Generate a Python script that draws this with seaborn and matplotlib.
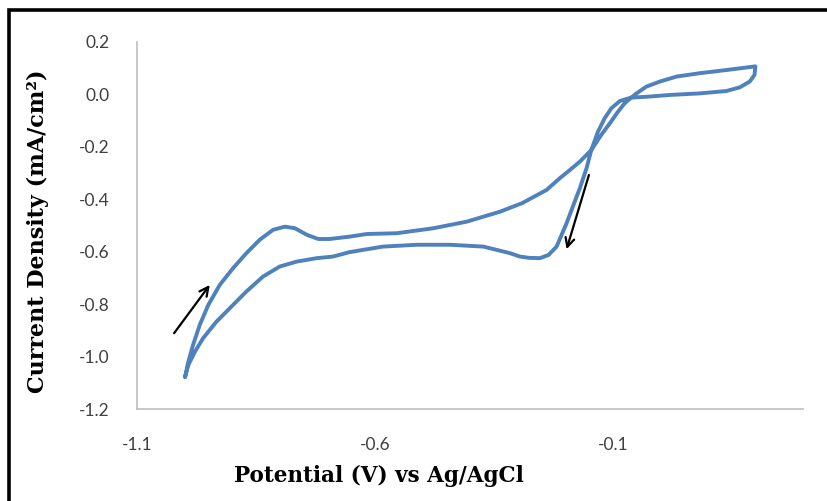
import numpy as np
import pandas as pd
import matplotlib
matplotlib.use("Agg")
import matplotlib.pyplot as plt
from matplotlib.patches import Rectangle
import seaborn as sns

# Forward (anodic) sweep: -1.0 V -> +0.2 V
potential_forward = [-0.999, -0.992, -0.982, -0.968, -0.950, -0.926, -0.898, -0.870,
                     -0.842, -0.814, -0.789, -0.768, -0.743, -0.719, -0.695, -0.653,
                     -0.617, -0.554, -0.477, -0.407, -0.337, -0.290, -0.239, -0.211,
                     -0.190, -0.169, -0.145, -0.124, -0.106, -0.089, -0.075, -0.061,
                     -0.050, -0.029, -0.001, 0.034, 0.083, 0.139, 0.200]
current_forward = [-1.078, -1.019, -0.955, -0.879, -0.803, -0.727, -0.663, -0.606,
                   -0.555, -0.517, -0.505, -0.511, -0.536, -0.552, -0.552, -0.543,
                   -0.533, -0.530, -0.511, -0.486, -0.448, -0.415, -0.365, -0.320,
                   -0.289, -0.257, -0.213, -0.155, -0.111, -0.067, -0.035, -0.013,
                   0.003, 0.029, 0.048, 0.067, 0.080, 0.092, 0.106]

# Reverse (cathodic) sweep: +0.2 V -> -1.0 V
potential_reverse = [0.200, 0.198, 0.188, 0.167, 0.139, 0.083, 0.020, -0.029, -0.061,
                     -0.085, -0.103, -0.117, -0.131, -0.145, -0.155, -0.169, -0.180,
                     -0.197, -0.218, -0.235, -0.253, -0.275, -0.295, -0.316, -0.372,
                     -0.442, -0.512, -0.583, -0.653, -0.688, -0.722, -0.764, -0.800,
                     -0.835, -0.870, -0.905, -0.933, -0.961, -0.978, -0.992, -0.999]
current_reverse = [0.106, 0.073, 0.048, 0.026, 0.012, 0.003, -0.003, -0.010, -0.013,
                   -0.026, -0.054, -0.092, -0.143, -0.213, -0.282, -0.358, -0.410,
                   -0.492, -0.581, -0.613, -0.625, -0.624, -0.619, -0.606, -0.581,
                   -0.574, -0.574, -0.581, -0.602, -0.619, -0.625, -0.638, -0.657,
                   -0.695, -0.752, -0.816, -0.867, -0.930, -0.981, -1.032, -1.078]

x_ticks = [-1.1, -0.6, -0.1]
y_ticks = [-1.2, -1.0, -0.8, -0.6, -0.4, -0.2, 0.0, 0.2]

# Scan direction arrows (tail, head)
arrow_up = ((-1.022, -0.911), (-0.947, -0.727))
arrow_down = ((-0.150, -0.308), (-0.197, -0.591))

sns.set_theme(style="white")
plt.rcParams["axes.unicode_minus"] = False

fig = plt.figure(figsize=(8.27, 5.01), dpi=100)
ax = fig.add_axes([137 / 827, 1 - 409 / 501, (803 - 137) / 827, (409 - 41.7) / 501])

cv = pd.DataFrame({
    "potential": potential_forward + potential_reverse,
    "current": current_forward + current_reverse,
})

sns.lineplot(data=cv, x="potential", y="current", sort=False, estimator=None,
             color="#4f81bd", linewidth=2.8, ax=ax)
for line in ax.get_lines():
    line.set_solid_joinstyle("round")
    line.set_solid_capstyle("round")

for (tail, head) in (arrow_up, arrow_down):
    ax.annotate("", xy=head, xytext=tail,
                arrowprops=dict(arrowstyle="->", color="black", lw=1.6,
                                mutation_scale=16, shrinkA=0, shrinkB=0))

ax.set_xlim(-1.1, 0.3)
ax.set_ylim(-1.2, 0.2)
ax.set_xticks(x_ticks)
ax.set_yticks(y_ticks)
ax.set_xticklabels([f"{v:.1f}" for v in x_ticks])
ax.set_yticklabels([f"{v:.1f}" for v in y_ticks])

for lab in ax.get_xticklabels() + ax.get_yticklabels():
    lab.set_fontfamily("Lato")
    lab.set_fontsize(12.5)
    lab.set_color("#404040")
ax.tick_params(axis="both", length=0)
ax.tick_params(axis="y", pad=20)
ax.tick_params(axis="x", pad=20)

for side in ("top", "right"):
    ax.spines[side].set_visible(False)
for side in ("left", "bottom"):
    ax.spines[side].set_color("#bfbfbf")
    ax.spines[side].set_linewidth(1.2)
ax.grid(False)

ax.set_xlabel("Potential (V) vs Ag/AgCl", family="DejaVu Serif", weight="bold",
              size=15.5, color="black")
ax.set_ylabel("Current Density (mA/cm²)", family="DejaVu Serif", weight="bold",
              size=16, color="black")
ax.xaxis.set_label_coords(0.363, -0.151)
ax.yaxis.set_label_coords(-0.132, 0.485)

# Black frame around the figure
fig.patches.append(Rectangle((8.5 / 827, -0.2), 1.5, 1.2 - 9.5 / 501,
                             transform=fig.transFigure, fill=False,
                             edgecolor="black", linewidth=2.6, zorder=10))

fig.savefig("out.png", dpi=100)
